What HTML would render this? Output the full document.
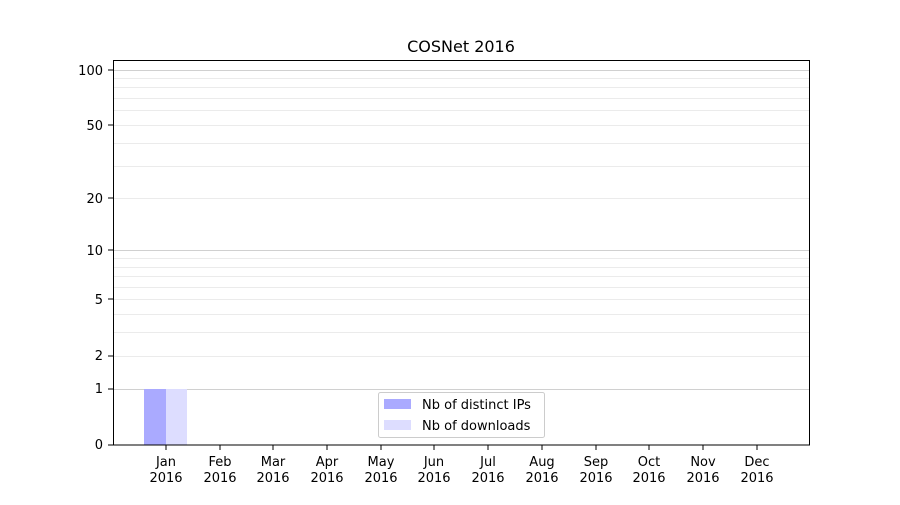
<!DOCTYPE html>
<html><head><style>body{margin:0;background:#fff}</style></head><body>
<svg width="900" height="500" xmlns="http://www.w3.org/2000/svg" font-family="DejaVu Sans, Liberation Sans, sans-serif">
<rect width="900" height="500" fill="#fff"/>
<g stroke="#ebebeb" stroke-width="1">
<line x1="113" x2="810" y1="356.5" y2="356.5"/><line x1="113" x2="810" y1="332.5" y2="332.5"/><line x1="113" x2="810" y1="314.5" y2="314.5"/><line x1="113" x2="810" y1="299.5" y2="299.5"/><line x1="113" x2="810" y1="287.5" y2="287.5"/><line x1="113" x2="810" y1="276.5" y2="276.5"/><line x1="113" x2="810" y1="267.5" y2="267.5"/><line x1="113" x2="810" y1="258.5" y2="258.5"/>
<line x1="113" x2="810" y1="198.5" y2="198.5"/><line x1="113" x2="810" y1="166.5" y2="166.5"/><line x1="113" x2="810" y1="143.5" y2="143.5"/><line x1="113" x2="810" y1="125.5" y2="125.5"/><line x1="113" x2="810" y1="110.5" y2="110.5"/><line x1="113" x2="810" y1="98.5" y2="98.5"/><line x1="113" x2="810" y1="87.5" y2="87.5"/><line x1="113" x2="810" y1="78.5" y2="78.5"/>
</g>
<g stroke="#d0d0d0" stroke-width="1">
<line x1="113" x2="810" y1="389.5" y2="389.5"/><line x1="113" x2="810" y1="250.5" y2="250.5"/><line x1="113" x2="810" y1="70.5" y2="70.5"/>
</g>
<rect x="144" y="389" width="22" height="56" fill="#aaaaff"/>
<rect x="166" y="389" width="21" height="56" fill="#ddddff"/>
<rect x="113.5" y="60.5" width="696" height="384.5" fill="none" stroke="#000"/>
<g font-size="13" text-anchor="end" fill="#000">
<text x="103" y="449">0</text><text x="103" y="393">1</text><text x="103" y="360">2</text><text x="103" y="304">5</text><text x="103" y="255">10</text><text x="103" y="203">20</text><text x="103" y="130">50</text><text x="103" y="75">100</text>
</g>
<g stroke="#000"><line x1="108" x2="113" y1="445" y2="445"/><line x1="108" x2="113" y1="389" y2="389"/><line x1="108" x2="113" y1="356" y2="356"/><line x1="108" x2="113" y1="299" y2="299"/><line x1="108" x2="113" y1="250" y2="250"/><line x1="108" x2="113" y1="198" y2="198"/><line x1="108" x2="113" y1="125" y2="125"/><line x1="108" x2="113" y1="70" y2="70"/></g>
<g font-size="13" text-anchor="middle" fill="#000">
<g stroke="#000"><line x1="166" x2="166" y1="445" y2="450"/><line x1="220" x2="220" y1="445" y2="450"/><line x1="273" x2="273" y1="445" y2="450"/><line x1="327" x2="327" y1="445" y2="450"/><line x1="381" x2="381" y1="445" y2="450"/><line x1="434" x2="434" y1="445" y2="450"/><line x1="488" x2="488" y1="445" y2="450"/><line x1="542" x2="542" y1="445" y2="450"/><line x1="596" x2="596" y1="445" y2="450"/><line x1="649" x2="649" y1="445" y2="450"/><line x1="703" x2="703" y1="445" y2="450"/><line x1="757" x2="757" y1="445" y2="450"/></g>
<text x="166" y="466">Jan</text><text x="220" y="466">Feb</text><text x="273" y="466">Mar</text><text x="327" y="466">Apr</text><text x="381" y="466">May</text><text x="434" y="466">Jun</text><text x="488" y="466">Jul</text><text x="542" y="466">Aug</text><text x="596" y="466">Sep</text><text x="649" y="466">Oct</text><text x="703" y="466">Nov</text><text x="757" y="466">Dec</text>
<text x="166" y="482">2016</text><text x="220" y="482">2016</text><text x="273" y="482">2016</text><text x="327" y="482">2016</text><text x="381" y="482">2016</text><text x="434" y="482">2016</text><text x="488" y="482">2016</text><text x="542" y="482">2016</text><text x="596" y="482">2016</text><text x="649" y="482">2016</text><text x="703" y="482">2016</text><text x="757" y="482">2016</text>
<text x="461" y="52" font-size="16">COSNet 2016</text>
</g>
<rect x="378.5" y="392.5" width="166" height="45" rx="2" fill="#fff" fill-opacity="0.8" stroke="#ccc"/>
<rect x="384" y="399" width="27" height="10" fill="#aaaaff"/>
<rect x="384" y="420" width="27" height="10" fill="#ddddff"/>
<text x="422" y="409" font-size="13">Nb of distinct IPs</text>
<text x="422" y="430" font-size="13">Nb of downloads</text>
</svg>
</body></html>
